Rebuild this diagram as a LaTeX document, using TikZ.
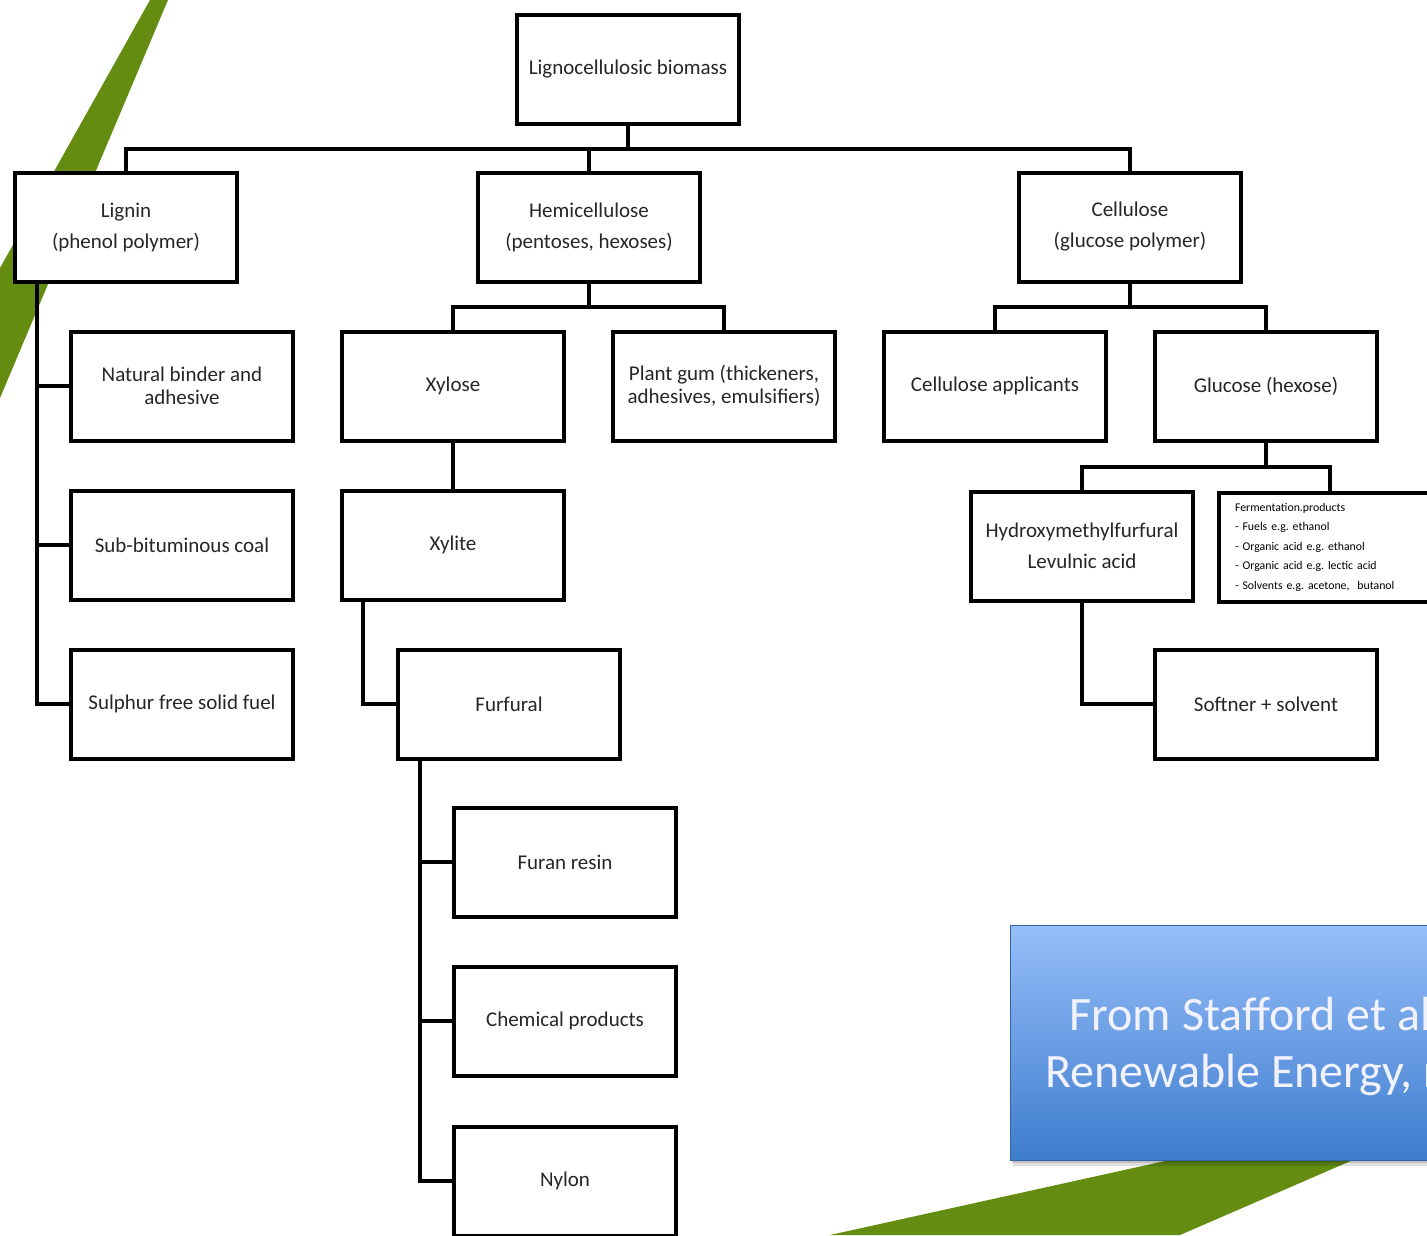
\documentclass[tikz,border=0pt]{standalone}
\usepackage{fontspec}
\setmainfont{Carlito}
\frenchspacing
\definecolor{leaf}{RGB}{99,140,17}
\definecolor{ink}{RGB}{38,38,38}
\definecolor{skytop}{RGB}{150,190,250}
\definecolor{skybot}{RGB}{62,125,205}
\tikzset{
	box/.style={draw, line width=4pt, fill=white, minimum width=222pt, minimum height=109pt,
		align=center, text=ink, font=\fontsize{21}{24}\selectfont},
	link/.style={line width=4pt}
}

\begin{document}
\begin{tikzpicture}[x=1pt,y=-1pt]
	\useasboundingbox (0,0) rectangle (1427,1235);
	\clip (0,0) rectangle (1427,1235);

	% green background slivers
	\fill[leaf] (150,0) -- (168,0) -- (0,398) -- (0,268) -- cycle;
	\fill[leaf] (830,1235) -- (1260,1140) -- (1399,1140) -- (1180,1235) -- cycle;

	% top levels
	\node[box] (root) at (628,69) {Lignocellulosic biomass};
	\node[box] (lignin) at (126,227) {Lignin\\[7pt](phenol polymer)};
	\node[box] (hemi) at (589,227) {Hemicellulose\\[7pt](pentoses, hexoses)};
	\node[box] (cell) at (1130,227) {Cellulose\\[7pt](glucose polymer)};

	% lignin branch
	\node[box] (binder) at (182,386) {Natural binder and\\[-1pt]adhesive};
	\node[box] (coal) at (182,545) {Sub-bituminous coal};
	\node[box] (sfuel) at (182,704) {Sulphur free solid fuel};

	% hemicellulose branch
	\node[box] (xylose) at (453,386) {Xylose};
	\node[box] (gum) at (724,386) {Plant gum (thickeners,\\[-1pt]adhesives, emulsifiers)};
	\node[box] (xylite) at (453,545) {Xylite};
	\node[box] (furfural) at (509,704) {Furfural};
	\node[box] (resin) at (565,862) {Furan resin};
	\node[box] (chem) at (565,1021) {Chemical products};
	\node[box] (nylon) at (565,1181) {Nylon};

	% cellulose branch
	\node[box] (applic) at (995,386) {Cellulose applicants};
	\node[box] (glucose) at (1266,386) {Glucose (hexose)};
	\node[box] (hmf) at (1082,546) {Hydroxymethylfurfural\\[7pt]Levulnic acid};
	\node[box, align=left, text width=190pt, text=black, font=\fontsize{11.8}{19.5}\selectfont] (ferm) at (1330,547)
		{Fermentation.products\\- Fuels e.g. ethanol\\- Organic acid e.g. ethanol\\- Organic acid e.g. lectic acid\\- Solvents e.g. acetone,~ butanol};
	\node[box] (softner) at (1266,704) {Softner + solvent};

	% connectors
	\draw[link] (root.south) -- ++(0,23) coordinate (bus1);
	\draw[link] (lignin.north) |- (bus1) -| (cell.north);
	\draw[link] (hemi.north) -- (hemi.north |- bus1);

	\draw[link] ([xshift=24pt]lignin.south west) coordinate (ltrunk) |- (sfuel.west);
	\draw[link] (binder.west) -- (binder.west -| ltrunk);
	\draw[link] (coal.west) -- (coal.west -| ltrunk);

	\draw[link] (hemi.south) -- ++(0,23) coordinate (bus2);
	\draw[link] (xylose.north) |- (bus2) -| (gum.north);
	\draw[link] (xylose) -- (xylite);
	\draw[link] ([xshift=23pt]xylite.south west) |- (furfural.west);
	\draw[link] ([xshift=24pt]furfural.south west) coordinate (ftrunk) |- (nylon.west);
	\draw[link] (resin.west) -- (resin.west -| ftrunk);
	\draw[link] (chem.west) -- (chem.west -| ftrunk);

	\draw[link] (cell.south) -- ++(0,23) coordinate (bus3);
	\draw[link] (applic.north) |- (bus3) -| (glucose.north);
	\draw[link] (glucose.south) -- ++(0,24) coordinate (bus4);
	\draw[link] (hmf.north) |- (bus4) -| (ferm.north);
	\draw[link] (hmf.south) |- (softner.west);

	% source note
	\fill[black, opacity=0.12] (1013,929) rectangle (1440,1166);
	\fill[black, opacity=0.15] (1012,928) rectangle (1440,1163);
	\shade[top color=skytop, bottom color=skybot, draw=skybot!80!black, line width=1pt]
		(1010,925) rectangle (1440,1160);
	\node[anchor=base west, text=white!95!blue, font=\fontsize{48}{54}\selectfont] (src1) at (1066,1030) {From Stafford et al};
	\node[anchor=base west, text=white!95!blue, font=\fontsize{48}{54}\selectfont] (src2) at (1042,1087) {Renewable Energy, r};
\end{tikzpicture}
\end{document}
